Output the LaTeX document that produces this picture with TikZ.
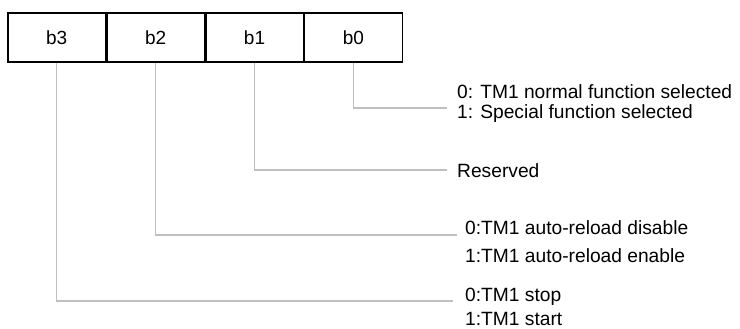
\documentclass[tikz,border=0pt]{standalone}
\usepackage{fontspec}
\setmainfont{Liberation Sans}
\usetikzlibrary{positioning}
\begin{document}
\begin{tikzpicture}[x=1pt, y=-1pt,
  bitcell/.style={draw, line width=1.4pt, minimum width=97.5pt, minimum height=49pt,
    inner sep=0pt, font=\fontsize{19}{21}\selectfont},
  lead/.style={draw=black!25, line width=1.4pt},
  desc/.style={anchor=west, inner sep=0pt, align=left,
    font=\fontsize{19.2}{20}\selectfont}]
\useasboundingbox (0,0) rectangle (740,329);

% register bits, MSB on the left
\node[bitcell] (b3) at (56.75,37.5) {b3};
\node[bitcell, right=0pt of b3] (b2) {b2};
\node[bitcell, right=0pt of b2] (b1) {b1};
\node[bitcell, right=0pt of b1] (b0) {b0};

% descriptions
\node[desc] (d0)  at (457,104) {0: TM1 normal function selected\\1: Special function selected};
\node[desc] (d1)  at (457,171) {Reserved};
\node[desc] (d2a) at (465,228) {0:TM1 auto-reload disable};
\node[desc] (d2b) at (465,256) {1:TM1 auto-reload enable};
\node[desc] (d3a) at (465,297) {0:TM1 stop};
\node[desc] (d3b) at (465,319) {1:TM1 start};

% free ends of the leads
\coordinate (e0) at (447,108);
\coordinate (e1) at (447,170);
\coordinate (e2) at (457,235);
\coordinate (e3) at (453,301);

\draw[lead] (b0.south) |- (e0);
\draw[lead] (b1.south) |- (e1);
\draw[lead] (b2.south) |- (e2);
\draw[lead] (b3.south) |- (e3);
\end{tikzpicture}
\end{document}
